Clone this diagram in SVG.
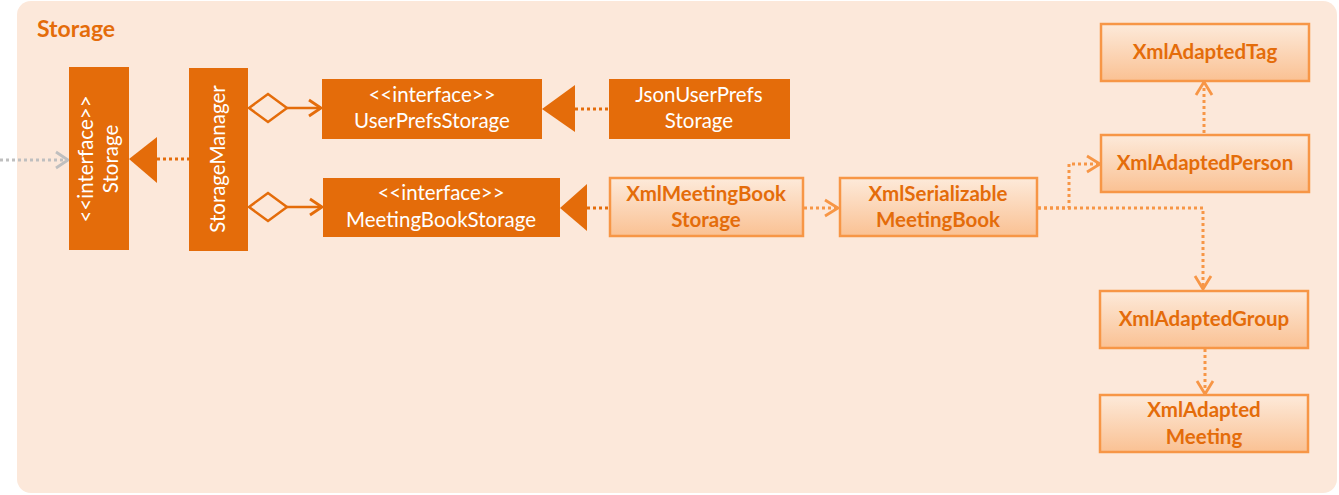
<svg xmlns="http://www.w3.org/2000/svg" width="1339" height="495" viewBox="0 0 1339 495">
<defs>
<linearGradient id="lg" x1="0" y1="0" x2="0" y2="1">
<stop offset="0" stop-color="#FDEADA"/>
<stop offset="1" stop-color="#FAC193"/>
</linearGradient>
<marker id="openL" markerWidth="20" markerHeight="20" refX="16" refY="10" orient="auto" markerUnits="userSpaceOnUse">
<path d="M3,2 L16,10 L3,18" fill="none" stroke="#F79646" stroke-width="2.8"/>
</marker>
<marker id="openD" markerWidth="20" markerHeight="20" refX="16" refY="10" orient="auto" markerUnits="userSpaceOnUse">
<path d="M4,2 L16,10 L4,18" fill="none" stroke="#E46C0A" stroke-width="2.8"/>
</marker>
<marker id="openG" markerWidth="20" markerHeight="20" refX="16" refY="10" orient="auto" markerUnits="userSpaceOnUse">
<path d="M4,2 L16,10 L4,18" fill="none" stroke="#BFBFBF" stroke-width="2.8"/>
</marker>
</defs>
<style>
.dark{fill:#E46C0A}
.light{fill:url(#lg);stroke:#F79646;stroke-width:2.5}
.wt{font-family:Lato,"Open Sans","Liberation Sans",sans-serif;font-size:20.5px;fill:#FFFFFF;text-anchor:middle}
.ot{font-family:Lato,"Open Sans","Liberation Sans",sans-serif;font-size:20.5px;font-weight:bold;fill:#E46C0A;text-anchor:middle}
.dotL{fill:none;stroke:#F79646;stroke-width:3;stroke-dasharray:3 3}
.dotD{fill:none;stroke:#E46C0A;stroke-width:3;stroke-dasharray:3 3}
.dotG{fill:none;stroke:#BFBFBF;stroke-width:3;stroke-dasharray:3 3}
.solid{fill:none;stroke:#E46C0A;stroke-width:2.5}
</style>
<rect x="0" y="0" width="1339" height="495" fill="#FFFFFF"/>
<rect id="pkg" x="17" y="1" width="1320" height="492" rx="14" ry="14" fill="#FCE8DA"/>
<text x="37" y="37" font-family="Lato,'Open Sans','Liberation Sans',sans-serif" font-size="23" font-weight="bold" fill="#E46C0A">Storage</text>

<g id="connectors">
<line class="dotG" x1="0" y1="160" x2="68" y2="160" marker-end="url(#openG)"/>
<line class="dotD" x1="157" y1="159" x2="189" y2="159"/>
<polygon points="129,159 157,137 157,183" fill="#E46C0A"/>
<polygon points="249,108 268,94 287,108 268,122" fill="none" stroke="#E46C0A" stroke-width="2.5"/>
<line class="solid" x1="287" y1="108" x2="321" y2="108" marker-end="url(#openD)"/>
<polygon points="249,207 268,193 287,207 268,221" fill="none" stroke="#E46C0A" stroke-width="2.5"/>
<line class="solid" x1="287" y1="207" x2="322" y2="207" marker-end="url(#openD)"/>
<line class="dotD" x1="575" y1="109" x2="609" y2="109"/>
<polygon points="542,109 575,85 575,132" fill="#E46C0A"/>
<line class="dotD" x1="587" y1="208" x2="609" y2="208"/>
<polygon points="560,208 587,184 587,231" fill="#E46C0A"/>
<line class="dotL" x1="804" y1="208" x2="838" y2="208" marker-end="url(#openL)"/>
<polyline class="dotL" points="1038,208 1069,208 1069,164 1100,164" marker-end="url(#openL)"/>
<polyline class="dotL" points="1038,208 1203,208 1203,289" marker-end="url(#openL)"/>
<line class="dotL" x1="1204" y1="133" x2="1204" y2="82" marker-end="url(#openL)"/>
<line class="dotL" x1="1205" y1="349" x2="1205" y2="394" marker-end="url(#openL)"/>
</g>

<g id="storage">
<rect class="dark" x="69" y="67" width="60" height="183"/>
<g transform="translate(99,159) rotate(-90)">
<text class="wt" x="0" y="-6">&lt;&lt;interface&gt;&gt;</text>
<text class="wt" x="0" y="19">Storage</text>
</g>
</g>
<g id="storageManager">
<rect class="dark" x="189" y="68" width="59" height="183"/>
<text class="wt" transform="translate(218,159) rotate(-90)" x="0" y="7">StorageManager</text>
</g>
<g id="userPrefsStorage">
<rect class="dark" x="322" y="79" width="220" height="60"/>
<text class="wt" x="432" y="102">&lt;&lt;interface&gt;&gt;</text>
<text class="wt" x="432" y="128">UserPrefsStorage</text>
</g>
<g id="meetingBookStorage">
<rect class="dark" x="323" y="178" width="237" height="59"/>
<text class="wt" x="441" y="200">&lt;&lt;interface&gt;&gt;</text>
<text class="wt" x="441" y="227">MeetingBookStorage</text>
</g>
<g id="jsonUserPrefsStorage">
<rect class="dark" x="609" y="79" width="181" height="60"/>
<text class="wt" x="699" y="102">JsonUserPrefs</text>
<text class="wt" x="699" y="128">Storage</text>
</g>
<g id="xmlMeetingBookStorage">
<rect class="light" x="610" y="178" width="193" height="58"/>
<text class="ot" x="706" y="201">XmlMeetingBook</text>
<text class="ot" x="706" y="227">Storage</text>
</g>
<g id="xmlSerializableMeetingBook">
<rect class="light" x="840" y="178" width="197" height="58"/>
<text class="ot" x="938" y="201">XmlSerializable</text>
<text class="ot" x="938" y="227">MeetingBook</text>
</g>
<g id="xmlAdaptedTag">
<rect class="light" x="1101" y="24" width="208" height="57"/>
<text class="ot" x="1205" y="59">XmlAdaptedTag</text>
</g>
<g id="xmlAdaptedPerson">
<rect class="light" x="1101" y="135" width="208" height="57"/>
<text class="ot" x="1205" y="170">XmlAdaptedPerson</text>
</g>
<g id="xmlAdaptedGroup">
<rect class="light" x="1100" y="291" width="208" height="57"/>
<text class="ot" x="1204" y="326">XmlAdaptedGroup</text>
</g>
<g id="xmlAdaptedMeeting">
<rect class="light" x="1100" y="395" width="208" height="57"/>
<text class="ot" x="1204" y="417">XmlAdapted</text>
<text class="ot" x="1204" y="444">Meeting</text>
</g>
</svg>
